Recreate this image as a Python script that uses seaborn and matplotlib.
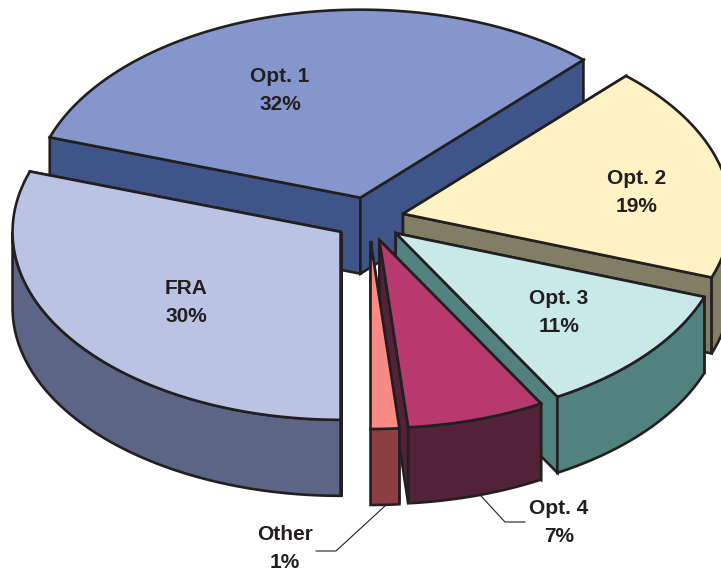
import numpy as np
import matplotlib
matplotlib.use("Agg")
import matplotlib.pyplot as plt
import seaborn as sns

# Datos del grafico (sentido horario desde abajo)
categorias = ["FRA", "Opt. 1", "Opt. 2", "Opt. 3", "Opt. 4", "Other"]
valores = [30.2, 31.7, 18.6, 11.3, 6.8, 1.4]
etiquetas = ["30%", "32%", "19%", "11%", "7%", "1%"]

# Colores de cada porcion
color_top = ["#BAC3E4", "#8496CB", "#FFF2C4", "#C8E8EA", "#B7396F", "#FA8A84"]
color_lado = ["#5C6585", "#3F5489", "#807F66", "#518280", "#522338", "#8E3E42"]

# Forma del pastel en pixeles
cx, cy = 369, 219
rx, ry = 328, 188
ex, ey = 35, 22
prof = 76
borde = "#231F20"
lw = 1.9

# Posicion de los textos y lineas guia
pos_texto = [(186, 303), (280, 90), (637, 193), (559, 313), (559, 523), (285, 549)]
guia_opt4 = ([481, 505, 525], [496, 522, 522])
guia_other = ([386, 336, 316], [505, 551, 551])

sns.set_theme(style="white")
plt.rcParams["font.family"] = ["Liberation Sans", "DejaVu Sans"]

fig = plt.figure(figsize=(7.21, 5.73), dpi=100)
ax = fig.add_axes([0, 0, 1, 1])
ax.set_xlim(0, 721)
ax.set_ylim(573, 0)
ax.axis("off")


def punto(ox, oy, t):
    return ox + rx * np.cos(t), oy - ry * np.sin(t)


def poligono(x, y, color, z):
    ax.fill(x, y, facecolor=color, edgecolor=borde, linewidth=lw, joinstyle="miter", zorder=z)


# Angulos de cada porcion a partir de los valores
fin = 270 - np.cumsum(valores) * 3.6
ini = np.concatenate([[270], fin[:-1]])
orden = [1, 0, 2, 3, 4, 5]

for n, i in enumerate(orden):
    a0, a1 = np.radians(ini[i]), np.radians(fin[i])
    medio = (a0 + a1) / 2
    ox = cx + ex * np.cos(medio)
    oy = cy - ey * np.sin(medio)
    z = n * 3 + 1

    # Caras de corte
    for a in (a0, a1):
        px, py = punto(ox, oy, a)
        poligono([ox, px, px, ox], [oy, py, py + prof, oy + prof], color_lado[i], z)

    # Pared exterior, solo la parte de abajo de la elipse
    g0, g1 = ini[i], fin[i]
    for desde, hasta in ((min(g0, 360), max(g1, 180)), (min(g0, 0), max(g1, -180))):
        if desde > hasta:
            t = np.radians(np.linspace(desde, hasta, 80))
            px, py = punto(ox, oy, t)
            poligono(np.r_[px, px[::-1]], np.r_[py, py[::-1] + prof], color_lado[i], z + 1)

    # Cara superior
    t = np.linspace(a0, a1, 150)
    px, py = punto(ox, oy, t)
    poligono(np.r_[ox, px], np.r_[oy, py], color_top[i], z + 2)

# Lineas guia
ax.plot(*guia_opt4, color=borde, lw=0.8, zorder=30)
ax.plot(*guia_other, color=borde, lw=0.8, zorder=30)

# Textos
for cat, et, (x, y) in zip(categorias, etiquetas, pos_texto):
    ax.text(x, y, f"{cat}\n{et}", ha="center", va="center", fontsize=15, fontweight="bold",
            color=borde, linespacing=1.6, zorder=31)

fig.savefig("out.png", dpi=100, facecolor="white")
plt.close(fig)
